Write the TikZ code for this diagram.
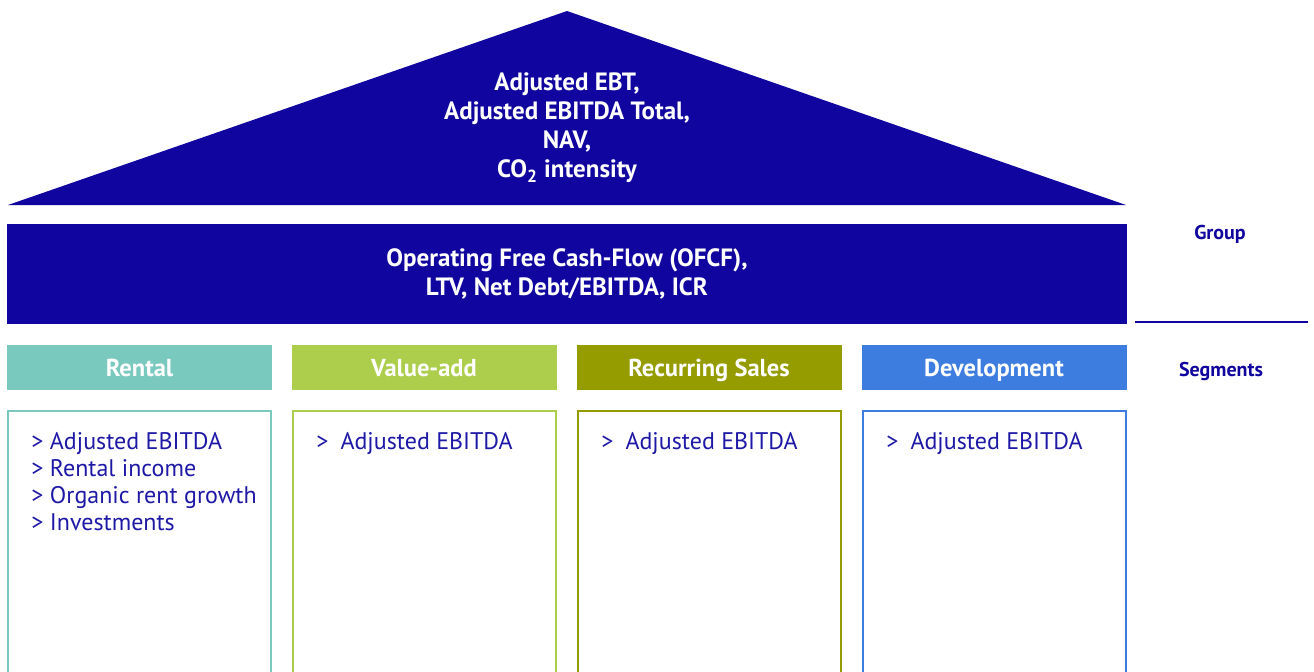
\documentclass[tikz,border=0pt]{standalone}
\usepackage{fontspec}
\setmainfont{PT Sans}
\usepackage{tikz}
\definecolor{house blue}{HTML}{10069F}
\definecolor{text blue}{HTML}{1E18A6}
\definecolor{rental teal}{HTML}{7AC9BF}
\definecolor{valueadd green}{HTML}{ACCE4C}
\definecolor{recurring olive}{HTML}{949C00}
\definecolor{development blue}{HTML}{3D7DE0}

\begin{document}
\begin{tikzpicture}[x=0.5pt, y=-0.5pt,
		roof text/.style = {text=white, font=\fontsize{12.5}{14.5}\selectfont\bfseries, align=center},
		header/.style = {minimum width=132.5pt, minimum height=22.5pt, inner sep=0pt, text=white,
			text height=10pt, text depth=0.8pt, font=\fontsize{12.25}{14}\selectfont\bfseries},
		column/.style = {line width=1pt},
		item text/.style = {anchor=north west, text=text blue, align=left, inner sep=0pt,
			font=\fontsize{12}{13.5}\selectfont},
		side label/.style = {text=house blue, font=\fontsize{10}{12}\selectfont\bfseries}]
		\useasboundingbox (0,0) rectangle (1314,671);
		% roof
		\fill[house blue] (8,205) -- (567,11) -- (1126,205) -- cycle;
		\node[roof text] (roof) at (567,128) {Adjusted EBT,\\Adjusted EBITDA Total,\\NAV,\\CO\textsubscript{2} intensity};
		% group band
		\node[fill=house blue, minimum width=560pt, minimum height=50pt, inner sep=0pt,
			roof text] (band) at (567,274) {Operating Free Cash-Flow (OFCF),\\LTV, Net Debt/EBITDA, ICR};
		% segment headers
		\node[header, fill=rental teal] (rental) at (139.5,367.5) {Rental};
		\node[header, fill=valueadd green] (valueadd) at (424,367.5) {Value-add};
		\node[header, fill=recurring olive] (recurring) at (709,367.5) {Recurring Sales};
		\node[header, fill=development blue] (development) at (994,367.5) {Development};
		% segment columns, open below the page
		\draw[column, rental teal] (8,700) -- (8,411) -- (271,411) -- (271,700);
		\draw[column, valueadd green] (293,700) -- (293,411) -- (556,411) -- (556,700);
		\draw[column, recurring olive] (578,700) -- (578,411) -- (841,411) -- (841,700);
		\draw[column, development blue] (863,700) -- (863,411) -- (1126,411) -- (1126,700);
		\node[item text] (rental items) at (31,432) {> Adjusted EBITDA\\> Rental income\\> Organic rent growth\\> Investments};
		\node[item text] (valueadd items) at (316,432) {>\hspace{0.5em}Adjusted EBITDA};
		\node[item text] (recurring items) at (601,432) {>\hspace{0.5em}Adjusted EBITDA};
		\node[item text] (development items) at (886,432) {>\hspace{0.5em}Adjusted EBITDA};
		% side labels
		\node[side label] (group) at (1220,234) {Group};
		\draw[house blue, line width=1pt] (1135,322) -- (1308,322);
		\node[side label] (segments) at (1221,371) {Segments};
	\end{tikzpicture}
\end{document}
